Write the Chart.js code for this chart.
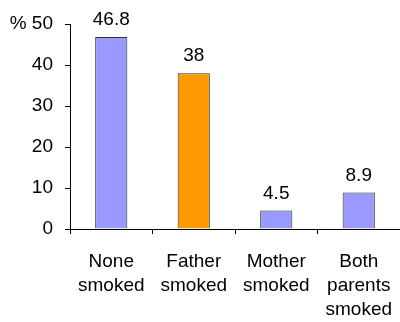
<!DOCTYPE html>
<html>
<head>
<meta charset="utf-8">
<script src="https://cdn.jsdelivr.net/npm/chart.js@4"></script>
<style>
  body { margin: 0; background: #fff; }
</style>
</head>
<body>
<canvas id="barChart" width="400" height="322"></canvas>
<script>
var categories = [['None', 'smoked'], ['Father', 'smoked'], ['Mother', 'smoked'], ['Both', 'parents', 'smoked']];
var percentSmoking = [46.8, 38, 4.5, 8.9];
var barColors = ['#9999FF', '#FF9900', '#9999FF', '#9999FF'];
var yTicks = [0, 10, 20, 30, 40, 50];

var fontFamily = "'Liberation Sans', Arial, sans-serif";

// value labels above each bar
var valueLabels = {
    id: 'valueLabels',
    afterDatasetsDraw: function(chart) {
        var c = chart.ctx;
        var meta = chart.getDatasetMeta(0);
        c.save();
        c.font = '19px ' + fontFamily;
        c.fillStyle = '#000';
        c.textAlign = 'center';
        c.textBaseline = 'alphabetic';
        meta.data.forEach(function(bar, i) {
            c.fillText(String(percentSmoking[i]), bar.x, bar.y - 12);
        });
        c.restore();
    }
};

var ctx = document.getElementById('barChart').getContext('2d');
var myChart = new Chart(ctx, {
    type: 'bar',
    data: {
        labels: categories,
        datasets: [{
            data: percentSmoking,
            backgroundColor: barColors,
            borderColor: '#333333',
            borderWidth: 1,
            barPercentage: 0.39,
            categoryPercentage: 1
        }]
    },
    options: {
        responsive: false,
        animation: false,
        layout: { padding: { top: 24, right: 0, left: 0, bottom: 0 } },
        plugins: {
            legend: { display: false },
            tooltip: { enabled: false }
        },
        scales: {
            x: {
                offset: true,
                grid: { offset: true, drawOnChartArea: false, drawTicks: true, tickLength: 5, color: '#000' },
                border: { display: true, color: '#000', width: 1 },
                ticks: {
                    color: '#000',
                    padding: 16,
                    maxRotation: 0,
                    font: { family: fontFamily, size: 19, lineHeight: '24px' }
                },
                afterFit: function(scale) {
                    scale.height = 93;
                    scale.paddingLeft = 0;
                    scale.paddingRight = 0;
                }
            },
            y: {
                min: 0,
                max: 50,
                afterBuildTicks: function(scale) {
                    scale.ticks = yTicks.map(function(v) { return { value: v }; });
                },
                grid: { drawOnChartArea: false, drawTicks: true, tickLength: 5, color: '#000' },
                border: { display: true, color: '#000', width: 1 },
                ticks: {
                    color: '#000',
                    padding: 12,
                    font: { family: fontFamily, size: 19 },
                    callback: function(v) { return v === 50 ? '% 50' : v; }
                },
                afterFit: function(scale) { scale.width = 70; }
            }
        }
    },
    plugins: [valueLabels]
});
</script>
</body>
</html>
